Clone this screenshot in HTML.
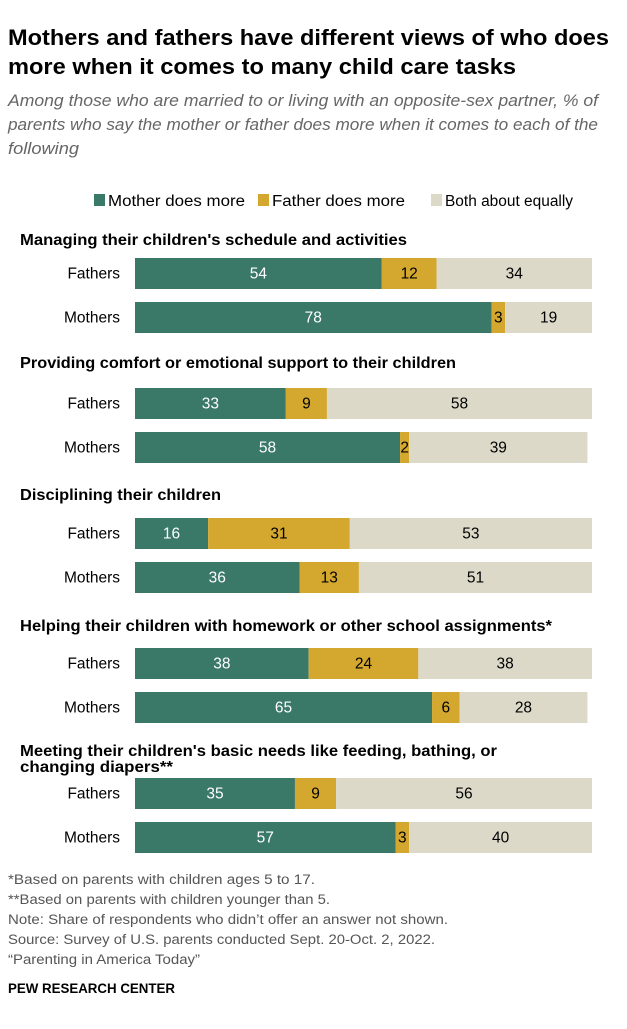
<!DOCTYPE html>
<html><head><meta charset="utf-8">
<style>
body{margin:0;background:#fff;width:627px;height:1024px;overflow:hidden;font-family:"Liberation Sans",Arial,sans-serif;color:#000}
svg text{font-family:"Liberation Sans",Arial,sans-serif}
</style></head>
<body>
<svg width="627" height="1024">
<text x="8" y="45" font-size="22.5" font-weight="bold" textLength="601" lengthAdjust="spacingAndGlyphs">Mothers and fathers have different views of who does</text>
<text x="8" y="74" font-size="22.5" font-weight="bold" textLength="508" lengthAdjust="spacingAndGlyphs">more when it comes to many child care tasks</text>
<g font-size="16.5" font-style="italic" fill="#666">
<text x="8" y="106" textLength="590" lengthAdjust="spacingAndGlyphs">Among those who are married to or living with an opposite-sex partner, % of</text>
<text x="8" y="130" textLength="590" lengthAdjust="spacingAndGlyphs">parents who say the mother or father does more when it comes to each of the</text>
<text x="8" y="154" textLength="71" lengthAdjust="spacingAndGlyphs">following</text></g>
<g font-size="15.5">
<rect x="94" y="194" width="11" height="12" fill="#3a7868"/>
<text x="108" y="206" textLength="137" lengthAdjust="spacingAndGlyphs">Mother does more</text>
<rect x="258" y="194" width="11" height="12" fill="#d4a82f"/>
<text x="272" y="206" textLength="133" lengthAdjust="spacingAndGlyphs">Father does more</text>
<rect x="431" y="194" width="11" height="12" fill="#dcd9c8"/>
<text x="445" y="206" textLength="128" lengthAdjust="spacingAndGlyphs">Both about equally</text>
</g>
<g id="bars"></g>
<g font-size="13.5" fill="#555">
<text x="8" y="884" textLength="307" lengthAdjust="spacingAndGlyphs">*Based on parents with children ages 5 to 17.</text>
<text x="8" y="904" textLength="322" lengthAdjust="spacingAndGlyphs">**Based on parents with children younger than 5.</text>
<text x="8" y="924" textLength="440" lengthAdjust="spacingAndGlyphs">Note: Share of respondents who didn’t offer an answer not shown.</text>
<text x="8" y="944" textLength="427" lengthAdjust="spacingAndGlyphs">Source: Survey of U.S. parents conducted Sept. 20-Oct. 2, 2022.</text>
<text x="8" y="964" textLength="192" lengthAdjust="spacingAndGlyphs">“Parenting in America Today”</text></g>
<text x="8" y="993" font-size="13.5" font-weight="bold" textLength="167" lengthAdjust="spacingAndGlyphs">PEW RESEARCH CENTER</text>
</svg>
<script>
const tasks=["Managing their children's schedule and activities","Providing comfort or emotional support to their children","Disciplining their children","Helping their children with homework or other school assignments*","Meeting their children's basic needs like feeding, bathing, or|changing diapers**"];
const taskWidths=[[387],[436],[201],[532],[477,153]];
const groups=["Fathers","Mothers"];
const motherMore=[[54,78],[33,58],[16,36],[38,65],[35,57]];
const fatherMore=[[12,3],[9,2],[31,13],[24,6],[9,3]];
const bothEqual=[[34,19],[58,39],[53,51],[38,28],[56,40]];
const titleY=[245,368,500,631,756];
const rowY=[[258,302],[388,432],[518,562],[648,692],[778,822]];
const x0=135,scale=4.57,bh=31;
const xs=v=>v*scale;
const NS="http://www.w3.org/2000/svg";
const g=document.getElementById('bars');
const colors=["#3a7868","#d4a82f","#dcd9c8"],tcol=["#fff","#000","#000"];
function el(t,a){const e=document.createElementNS(NS,t);for(const k in a)e.setAttribute(k,a[k]);g.appendChild(e);return e;}
tasks.forEach((t,i)=>{
  t.split("|").forEach((ln,j)=>{
    const tt=el('text',{x:20,y:titleY[i]+j*16,'font-size':15.5,'font-weight':'bold',textLength:taskWidths[i][j],lengthAdjust:'spacingAndGlyphs'});
    tt.textContent=ln;
    
    
  });
  groups.forEach((gr,k)=>{
    const y=rowY[i][k];
    const lab=el('text',{x:120,y:y+bh/2+5,'font-size':15.5,'text-anchor':'end'});
    lab.textContent=gr;
    
    
    const vals=[motherMore[i][k],fatherMore[i][k],bothEqual[i][k]];
    let x=x0;
    vals.forEach((v,s)=>{
      const r=el('rect',{x:x,y:y,width:xs(v),height:bh,fill:colors[s]});
      
      
      const tx=el('text',{x:x+xs(v)/2,y:y+bh/2+5,'font-size':15.5,'text-anchor':'middle',fill:tcol[s]});
      tx.textContent=v;
      
      
      x+=xs(v);
    });
  });
});
</script>
</body></html>
